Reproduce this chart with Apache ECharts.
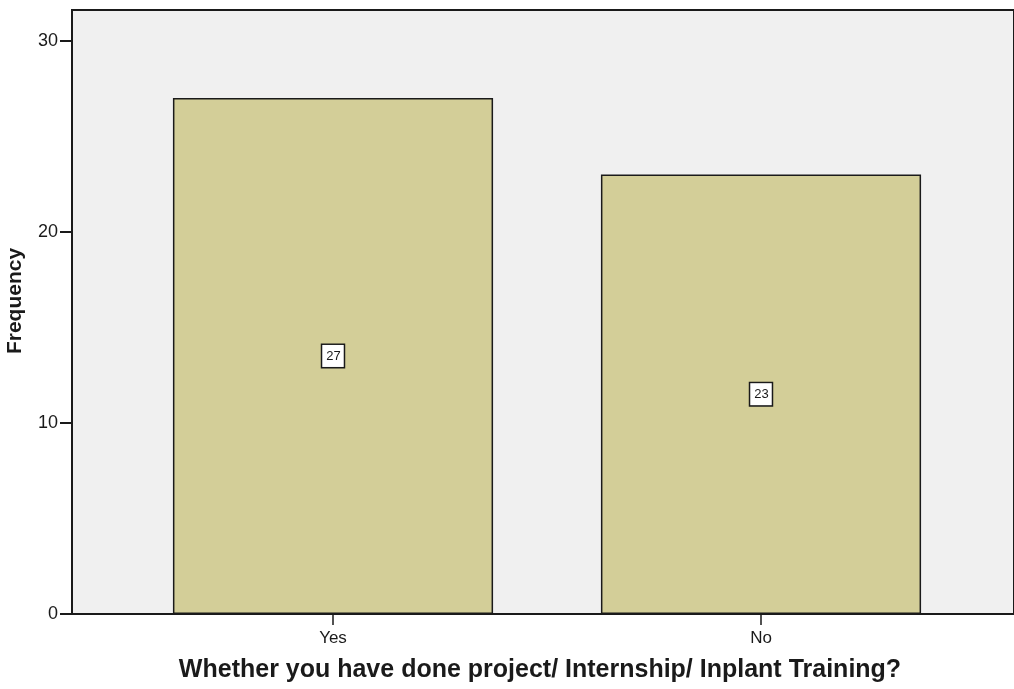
<!DOCTYPE html>
<html><head><meta charset="utf-8">
<script src="https://cdn.jsdelivr.net/npm/echarts@6/dist/echarts.min.js"></script>
<style>html,body{margin:0;padding:0;background:#fff}#c{width:1014px;height:689px}</style>
</head><body><div id="c"></div>
<script>
const categories = ['Yes', 'No'];
const frequencies = [27, 23];
const yTicks = [0, 10, 20, 30];
const xTitle = 'Whether you have done project/ Internship/ Inplant Training?';
const yTitle = 'Frequency';

const FONT = '"Liberation Sans", Arial, sans-serif';
const chart = echarts.init(document.getElementById('c'), null, {renderer: 'canvas'});
chart.setOption({
  animation: false,
  backgroundColor: '#ffffff',
  grid: [
    {left: 72, right: -4, top: 10, bottom: 75, show: true, backgroundColor: '#f0f0f0', borderColor: '#1a1a1a', borderWidth: 2},
    {left: 119, right: 39, top: 10, bottom: 75}
  ],
  xAxis: [
    {gridIndex: 0, type: 'value', show: false, min: 0, max: 1},
    {gridIndex: 1, type: 'category', data: categories, boundaryGap: true,
     axisLine: {show: false},
     axisTick: {show: true, alignWithLabel: true, length: 11, lineStyle: {color: '#1a1a1a', width: 1.5}},
     axisLabel: {color: '#1a1a1a', fontSize: 17, fontFamily: FONT, margin: 16}}
  ],
  yAxis: [
    {gridIndex: 0, type: 'value', show: false, min: 0, max: 1},
    {gridIndex: 1, type: 'value', min: 0, max: 31.6, interval: 10, offset: 47,
     axisLine: {show: false},
     axisTick: {show: true, length: 12, customValues: yTicks, lineStyle: {color: '#1a1a1a', width: 2}},
     splitLine: {show: false},
     axisLabel: {color: '#1a1a1a', fontSize: 18, fontFamily: FONT, margin: 14, customValues: yTicks,
       formatter: v => yTicks.includes(v) ? String(v) : ''}}
  ],
  series: [{
    type: 'bar', xAxisIndex: 1, yAxisIndex: 1,
    data: frequencies, barWidth: '74.8%',
    itemStyle: {color: '#d3ce98', borderColor: '#1a1a1a', borderWidth: 1.5},
    label: {show: true, position: 'inside', color: '#1a1a1a', fontSize: 13, lineHeight: 13, fontFamily: FONT,
      backgroundColor: '#ffffff', borderColor: '#1a1a1a', borderWidth: 1.5, padding: [5, 3, 4, 4]}
  }],
  graphic: [
    {type: 'text', x: 540, y: 670,
     style: {text: xTitle, font: 'bold 25px ' + FONT, fill: '#1a1a1a', textAlign: 'center', textVerticalAlign: 'middle'}},
    {type: 'text', rotation: Math.PI / 2, x: 15, y: 301,
     style: {text: yTitle, font: 'bold 21px ' + FONT, fill: '#1a1a1a', textAlign: 'center', textVerticalAlign: 'middle'}}
  ]
});
</script></body></html>
